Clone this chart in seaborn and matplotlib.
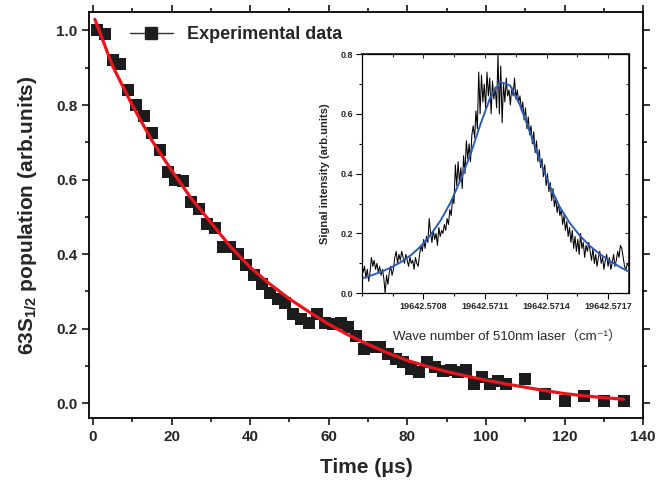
import numpy as np
import pandas as pd
import matplotlib
matplotlib.use('Agg')
import matplotlib.pyplot as plt
import seaborn as sns
from matplotlib.lines import Line2D
from matplotlib.ticker import MultipleLocator, FixedLocator, AutoMinorLocator, FormatStrFormatter

# ---- main panel: 63S1/2 population decay ----
time_us = [1, 3, 5, 7, 9, 11, 13, 15, 17, 19, 21, 23, 25, 27, 29, 31, 33, 35, 37, 39,
           41, 43, 45, 47, 49, 51, 53, 55, 57, 59, 61, 63, 65, 67, 69, 71, 73, 75, 77, 79,
           81, 83, 85, 87, 89, 91, 93, 95, 97, 99, 101, 103, 105, 110, 115, 120, 125, 130, 135]
population = [1.00, 0.99, 0.92, 0.91, 0.84, 0.80, 0.77, 0.725, 0.68, 0.62, 0.60, 0.595, 0.54, 0.52,
              0.48, 0.47, 0.42, 0.42, 0.40, 0.37, 0.345, 0.32, 0.295, 0.28, 0.27, 0.24, 0.225, 0.214,
              0.24, 0.216, 0.212, 0.214, 0.205, 0.18, 0.146, 0.15, 0.151, 0.132, 0.118, 0.11, 0.092,
              0.085, 0.112, 0.097, 0.087, 0.089, 0.084, 0.088, 0.052, 0.07, 0.052, 0.061, 0.052,
              0.066, 0.025, 0.005, 0.019, 0.007, 0.005]

# exponential fit
fit_t = [0.5, 5, 10, 15, 20, 25, 30, 35, 40, 45, 50, 55, 60, 65, 70, 75, 80, 85, 90, 95, 100,
         105, 110, 115, 120, 125, 130, 135]
fit_y = [1.03, 0.905, 0.80, 0.705, 0.625, 0.55, 0.485, 0.42, 0.365, 0.32, 0.28, 0.245, 0.212,
         0.183, 0.158, 0.135, 0.115, 0.099, 0.085, 0.073, 0.062, 0.052, 0.043, 0.034, 0.026,
         0.02, 0.015, 0.011]

# ---- inset: excitation spectrum ----
wn_start, wn_stop = 19642.5705, 19642.5718
inset_xticks = [19642.5708, 19642.5711, 19642.5714, 19642.5717]
signal = [0.10, 0.07, 0.09, 0.05, 0.08, 0.04, 0.07, 0.12, 0.09, 0.11, 0.08, 0.10, 0.07, 0.09, 0.06,
          0.08, 0.05, 0.00, 0.06, 0.03, 0.07, 0.09, 0.06, 0.08,
          0.12, 0.14, 0.10, 0.13, 0.11, 0.14, 0.12, 0.10, 0.13, 0.11, 0.09, 0.12, 0.10, 0.11, 0.08,
          0.12, 0.10, 0.09,
          0.13, 0.16, 0.14, 0.18, 0.15, 0.19, 0.17, 0.25, 0.20, 0.17, 0.21, 0.18, 0.20, 0.16, 0.22,
          0.19, 0.21, 0.20, 0.23, 0.21, 0.25, 0.23,
          0.28, 0.26, 0.32, 0.30, 0.43, 0.36, 0.44, 0.37, 0.42, 0.35, 0.46, 0.40, 0.51, 0.45, 0.50,
          0.44, 0.53, 0.56,
          0.52, 0.61, 0.55, 0.74, 0.60, 0.73, 0.64, 0.70, 0.62, 0.74, 0.66, 0.72, 0.60, 0.71, 0.65,
          0.69, 0.62, 0.80, 0.60, 0.76, 0.57, 0.70, 0.64, 0.72, 0.66, 0.68, 0.63, 0.69, 0.66, 0.72,
          0.65, 0.68, 0.64,
          0.66, 0.61, 0.64, 0.58, 0.62, 0.55, 0.59, 0.53, 0.56, 0.50, 0.54, 0.47, 0.51, 0.44, 0.48,
          0.42, 0.45, 0.39, 0.43, 0.36, 0.40, 0.34, 0.37, 0.31, 0.35, 0.29, 0.32, 0.27, 0.30,
          0.26, 0.28, 0.23, 0.26, 0.21, 0.24, 0.19, 0.22, 0.17, 0.21, 0.15, 0.19, 0.14, 0.18, 0.13,
          0.20, 0.15, 0.17, 0.12, 0.16, 0.14, 0.17,
          0.14, 0.11, 0.15, 0.10, 0.13, 0.09, 0.12, 0.14, 0.10, 0.12, 0.08, 0.11, 0.13, 0.09, 0.12,
          0.08, 0.10, 0.13, 0.09, 0.11, 0.14, 0.12, 0.16, 0.15, 0.12, 0.09, 0.08, 0.10, 0.09]
signal_fit = [0.05, 0.06, 0.072, 0.087, 0.105, 0.128, 0.158, 0.197, 0.245, 0.305, 0.38, 0.465,
              0.565, 0.655, 0.707, 0.695, 0.63, 0.54, 0.445, 0.36, 0.29, 0.237, 0.195, 0.16,
              0.133, 0.11, 0.09, 0.072]

sns.set_theme(style='ticks')
plt.rcParams['font.family'] = ['Liberation Sans', 'Noto Sans CJK SC', 'DejaVu Sans']
plt.rcParams['mathtext.fontset'] = 'custom'
plt.rcParams['mathtext.rm'] = 'Liberation Sans'
plt.rcParams['mathtext.bf'] = 'Liberation Sans:bold'
plt.rcParams['mathtext.it'] = 'Liberation Sans:italic'

df_main = pd.DataFrame({'t': time_us, 'pop': population})
df_fit = pd.DataFrame({'t': fit_t, 'y': fit_y})
df_sig = pd.DataFrame({'wn': np.linspace(wn_start, wn_stop, len(signal)), 'sig': signal})
df_sfit = pd.DataFrame({'wn': np.linspace(wn_start, wn_stop, len(signal_fit)), 'sig': signal_fit})

fig = plt.figure(figsize=(6.59, 4.92), dpi=100)
ax = fig.add_axes([0.135, 0.150, 0.841, 0.826])

sns.scatterplot(data=df_main, x='t', y='pop', marker='s', s=64, color='#1c1c1c',
                linewidth=0, ax=ax, zorder=2)
sns.lineplot(data=df_fit, x='t', y='y', color='#e8151d', lw=2.3, ax=ax, zorder=3,
             estimator=None)

ax.set_xlim(-1, 140)
ax.set_ylim(-0.04, 1.05)
ax.xaxis.set_major_locator(MultipleLocator(20))
ax.xaxis.set_minor_locator(MultipleLocator(10))
ax.yaxis.set_major_locator(MultipleLocator(0.2))
ax.yaxis.set_minor_locator(MultipleLocator(0.1))
ax.yaxis.set_major_formatter(FormatStrFormatter('%.1f'))
ax.tick_params(which='both', direction='out', top=True, right=True, width=1.1, color='black')
ax.tick_params(which='major', length=5)
ax.tick_params(which='minor', length=3)
for lab in ax.get_xticklabels() + ax.get_yticklabels():
    lab.set_fontsize(11)
    lab.set_fontweight('bold')
for sp in ax.spines.values():
    sp.set_visible(True)
    sp.set_linewidth(1.3)
    sp.set_color('black')

ax.set_xlabel('Time (\u03bcs)', fontsize=15, fontweight='bold', labelpad=10)
ax.set_ylabel(r'63S$_{\mathbf{1/2}}$ population (arb.units)', fontsize=15, fontweight='bold',
              labelpad=12)

handle = Line2D([], [], color='#333333', lw=1.0, marker='s', markersize=8,
                markerfacecolor='#1c1c1c', markeredgecolor='#1c1c1c')
ax.legend(handles=[handle], labels=['Experimental data'], loc='center left',
          bbox_to_anchor=(0.044, 0.943), frameon=False, handlelength=2.4,
          prop={'size': 13, 'weight': 'bold'})

# ---- inset ----
axin = fig.add_axes([0.549, 0.404, 0.405, 0.486])
sns.lineplot(data=df_sig, x='wn', y='sig', color='black', lw=0.75, ax=axin, estimator=None)
sns.lineplot(data=df_sfit, x='wn', y='sig', color='#2f5cb4', lw=1.4, ax=axin, estimator=None)

axin.set_xlim(wn_start, wn_stop)
axin.set_ylim(0, 0.8)
axin.xaxis.set_major_locator(FixedLocator(inset_xticks))
axin.xaxis.set_minor_locator(AutoMinorLocator(2))
axin.xaxis.set_major_formatter(FormatStrFormatter('%.4f'))
axin.yaxis.set_major_locator(MultipleLocator(0.2))
axin.yaxis.set_minor_locator(MultipleLocator(0.1))
axin.yaxis.set_major_formatter(FormatStrFormatter('%.1f'))
axin.tick_params(which='both', direction='out', width=0.8, color='black', pad=2)
axin.tick_params(which='major', length=4)
axin.tick_params(which='minor', length=2.5)
for lab in axin.get_xticklabels() + axin.get_yticklabels():
    lab.set_fontsize(6.5)
    lab.set_fontweight('bold')
for sp in axin.spines.values():
    sp.set_visible(True)
    sp.set_linewidth(0.9)
    sp.set_color('black')

# mirrored ticks pointing inward on top / right
sec_x = axin.secondary_xaxis('top')
sec_x.xaxis.set_major_locator(FixedLocator(inset_xticks))
sec_x.xaxis.set_minor_locator(AutoMinorLocator(2))
sec_x.tick_params(which='both', direction='in', labeltop=False, width=0.8)
sec_x.tick_params(which='major', length=3)
sec_x.tick_params(which='minor', length=2)
sec_y = axin.secondary_yaxis('right')
sec_y.yaxis.set_major_locator(MultipleLocator(0.2))
sec_y.yaxis.set_minor_locator(MultipleLocator(0.1))
sec_y.tick_params(which='both', direction='in', labelright=False, width=0.8)
sec_y.tick_params(which='major', length=3)
sec_y.tick_params(which='minor', length=2)

axin.set_xlabel('Wave number of 510nm laser\uff08cm\u207b\u00b9\uff09', fontsize=9.5)
axin.xaxis.set_label_coords(0.545, -0.155)
axin.set_ylabel('Signal intensity (arb.units)', fontsize=8, fontweight='bold', labelpad=8)

fig.savefig('out.png', dpi=100)
